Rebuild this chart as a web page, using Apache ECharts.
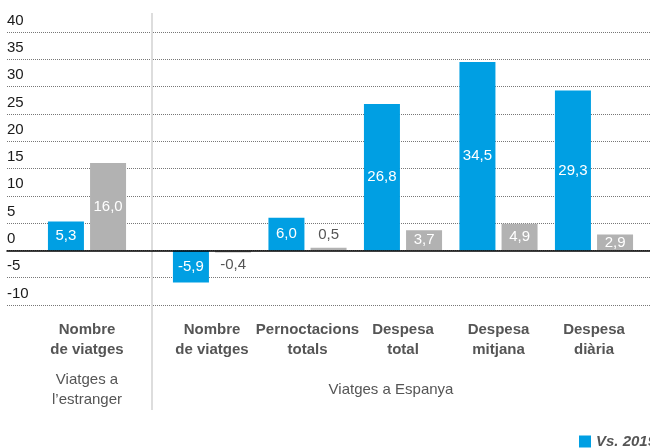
<!DOCTYPE html>
<html>
<head>
<meta charset="utf-8">
<script src="https://cdn.jsdelivr.net/npm/echarts@6/dist/echarts.min.js"></script>
<style>html,body{margin:0;padding:0;background:#fff;}#c{width:650px;height:448px;}</style>
</head>
<body>
<div id="c"></div>
<script>
// ---- data ----
const abroadCategories = ['Nombre\nde viatges'];
const spainCategories = ['Nombre\nde viatges', 'Pernoctacions\ntotals', 'Despesa\ntotal', 'Despesa\nmitjana', 'Despesa\ndiària'];
const abroadBlue = [5.3];
const abroadGray = [16.0];
const spainBlue = [-5.9, 6.0, 26.8, 34.5, 29.3];
const spainGray = [-0.4, 0.5, 3.7, 4.9, 2.9];
const seriesNames = ['Vs. 2019', 'Vs. 2022'];
const groupLabels = ['Viatges a\nl\u2019estranger', 'Viatges a Espanya'];
const yTicks = [-10, -5, 0, 5, 10, 15, 20, 25, 30, 35, 40];

const BLUE = '#009fe3', GRAY = '#b2b2b2', TXT = '#555555';
const FONT = '"Liberation Sans", Arial, sans-serif';
const fmt = v => v.toFixed(1).replace('.', ',');

function mkData(arr) {
  return arr.map(v => {
    if (Math.abs(v) < 1) {
      return { value: v, label: { position: v >= 0 ? 'top' : 'bottom', color: TXT } };
    }
    return { value: v };
  });
}
function barSeries(name, color, arr, idx) {
  return {
    name: name, type: 'bar', xAxisIndex: idx, yAxisIndex: idx,
    barWidth: 36, barGap: '17%', barMinHeight: 0,
    itemStyle: { color: color },
    label: {
      show: true, position: 'inside', color: '#fff', fontSize: 15, fontFamily: FONT,
      formatter: p => fmt(p.value)
    },
    data: mkData(arr)
  };
}
const catAxis = (idx, cats) => ({
  type: 'category', gridIndex: idx, data: cats,
  axisLine: { show: false, onZero: false }, axisTick: { show: false },
  axisLabel: { margin: 15, color: TXT, fontSize: 15, fontWeight: 'bold', fontFamily: FONT, lineHeight: 20, interval: 0 }
});
const hidY = idx => ({ type: 'value', gridIndex: idx, min: yTicks[0], max: yTicks[yTicks.length - 1], show: false });

const chart = echarts.init(document.getElementById('c'));
chart.setOption({
  animation: false,
  grid: [
    { left: 7, right: 0, top: 32, height: 273 },
    { left: 22, width: 130, top: 32, height: 273 },
    { left: 164.25, width: 477.5, top: 32, height: 273 }
  ],
  legend: {
    left: 579, top: 434, padding: 0, itemWidth: 12, itemHeight: 12, icon: 'rect', itemGap: 20,
    data: seriesNames,
    textStyle: { color: TXT, fontSize: 15, fontWeight: 'bold', fontStyle: 'italic', fontFamily: FONT }
  },
  xAxis: [
    { type: 'category', gridIndex: 0, data: [''],
      axisLine: { show: true, onZero: true, lineStyle: { color: '#000', width: 1.5 } },
      axisTick: { show: false }, axisLabel: { show: false }, z: 5 },
    catAxis(1, abroadCategories),
    catAxis(2, spainCategories)
  ],
  yAxis: [
    { type: 'value', gridIndex: 0, min: yTicks[0], max: yTicks[yTicks.length - 1], interval: 5,
      axisLine: { show: false }, axisTick: { show: false },
      splitLine: { show: true, lineStyle: { type: 'dotted', color: '#777', width: 1 } },
      axisLabel: { inside: true, margin: 0, verticalAlign: 'bottom', padding: [0, 0, 4, 0],
        color: '#1a1a1a', fontSize: 15, fontFamily: FONT } },
    hidY(1), hidY(2)
  ],
  graphic: [
    { type: 'line', shape: { x1: 152, y1: 13, x2: 152, y2: 410 }, style: { stroke: '#dddddd', lineWidth: 2 }, z: 1 },
    { type: 'text', x: 87, y: 390, style: { text: groupLabels[0], fill: TXT, font: '15px ' + FONT, textAlign: 'center', textVerticalAlign: 'middle', lineHeight: 20 } },
    { type: 'text', x: 391, y: 390, style: { text: groupLabels[1], fill: TXT, font: '15px ' + FONT, textAlign: 'center', textVerticalAlign: 'middle' } }
  ],
  series: [
    barSeries(seriesNames[0], BLUE, abroadBlue, 1),
    barSeries(seriesNames[1], GRAY, abroadGray, 1),
    barSeries(seriesNames[0], BLUE, spainBlue, 2),
    barSeries(seriesNames[1], GRAY, spainGray, 2)
  ]
});
</script>
</body>
</html>
